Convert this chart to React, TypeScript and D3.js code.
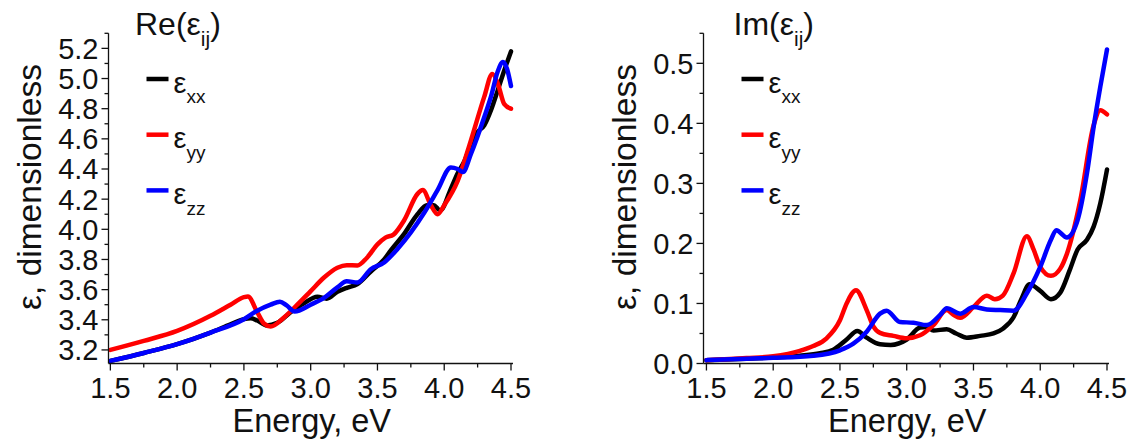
import React from 'react';
import * as d3 from 'd3';

// ---------- data ----------
const energyTicks = [1.5, 2.0, 2.5, 3.0, 3.5, 4.0, 4.5];
const energyMinor = [1.75, 2.25, 2.75, 3.25, 3.75, 4.25];
const reTicks = [3.2, 3.4, 3.6, 3.8, 4.0, 4.2, 4.4, 4.6, 4.8, 5.0, 5.2];
const reMinor = [3.3, 3.5, 3.7, 3.9, 4.1, 4.3, 4.5, 4.7, 4.9, 5.1, 5.3];
const imTicks = [0.0, 0.1, 0.2, 0.3, 0.4, 0.5];
const imMinor = [0.05, 0.15, 0.25, 0.35, 0.45, 0.55];

const seriesNames = ['xx', 'yy', 'zz'];
const seriesColors = ['#000000', '#ff0000', '#0000ff'];

const reXX: [number, number][] = [
  [1.5, 3.127], [1.75, 3.18], [2.0, 3.238], [2.25, 3.315], [2.4, 3.37], [2.5, 3.404],
  [2.55, 3.41], [2.6, 3.395], [2.67, 3.362], [2.75, 3.38], [2.85, 3.45], [2.95, 3.51],
  [3.05, 3.553], [3.12, 3.54], [3.2, 3.585], [3.27, 3.612], [3.35, 3.637], [3.45, 3.72],
  [3.55, 3.8], [3.6, 3.86], [3.7, 3.97], [3.8, 4.1], [3.87, 4.16], [3.92, 4.16],
  [3.97, 4.125], [4.05, 4.27], [4.1, 4.37], [4.15, 4.45], [4.2, 4.56], [4.25, 4.645],
  [4.3, 4.69], [4.35, 4.79], [4.4, 4.92], [4.45, 5.055], [4.5, 5.18],
];
const reYY: [number, number][] = [
  [1.5, 3.2], [1.75, 3.26], [2.0, 3.326], [2.25, 3.426], [2.4, 3.5], [2.5, 3.55],
  [2.53, 3.555], [2.6, 3.45], [2.65, 3.375], [2.7, 3.355], [2.8, 3.415], [2.9, 3.5],
  [3.0, 3.59], [3.1, 3.68], [3.2, 3.745], [3.27, 3.762], [3.35, 3.76], [3.42, 3.81],
  [3.5, 3.9], [3.56, 3.945], [3.62, 3.965], [3.7, 4.06], [3.8, 4.235], [3.84, 4.26],
  [3.9, 4.16], [3.95, 4.1], [4.0, 4.16], [4.1, 4.32], [4.2, 4.59], [4.3, 4.88],
  [4.36, 5.03], [4.4, 4.97], [4.45, 4.83], [4.5, 4.8],
];
const reZZ: [number, number][] = [
  [1.5, 3.127], [1.75, 3.18], [2.0, 3.238], [2.25, 3.315], [2.5, 3.404], [2.6, 3.46],
  [2.7, 3.5], [2.77, 3.52], [2.82, 3.495], [2.88, 3.455], [3.0, 3.5], [3.1, 3.545],
  [3.2, 3.615], [3.27, 3.655], [3.35, 3.648], [3.45, 3.735], [3.55, 3.78], [3.65, 3.87],
  [3.75, 3.98], [3.85, 4.11], [3.95, 4.26], [4.05, 4.41], [4.1, 4.4], [4.14, 4.38],
  [4.2, 4.5], [4.3, 4.745], [4.35, 4.88], [4.4, 5.045], [4.44, 5.11], [4.47, 5.065],
  [4.5, 4.95],
];

const imXX: [number, number][] = [
  [1.5, 0.0056], [1.8, 0.008], [2.0, 0.01], [2.2, 0.013], [2.35, 0.017], [2.45, 0.023],
  [2.55, 0.04], [2.63, 0.054], [2.7, 0.043], [2.8, 0.032], [2.88, 0.031], [3.0, 0.04],
  [3.1, 0.06], [3.15, 0.061], [3.2, 0.055], [3.3, 0.057], [3.37, 0.05], [3.45, 0.043],
  [3.55, 0.046], [3.65, 0.05], [3.72, 0.058], [3.8, 0.077], [3.86, 0.108], [3.92, 0.132],
  [4.0, 0.121], [4.08, 0.107], [4.15, 0.118], [4.22, 0.155], [4.28, 0.19], [4.35, 0.206],
  [4.4, 0.228], [4.45, 0.267], [4.5, 0.323],
];
const imYY: [number, number][] = [
  [1.5, 0.0056], [1.8, 0.009], [2.0, 0.012], [2.2, 0.021], [2.3, 0.029], [2.4, 0.042],
  [2.5, 0.072], [2.55, 0.1], [2.62, 0.122], [2.7, 0.089], [2.75, 0.062], [2.8, 0.051],
  [2.9, 0.046], [3.0, 0.042], [3.1, 0.047], [3.2, 0.064], [3.3, 0.089], [3.35, 0.081],
  [3.4, 0.076], [3.5, 0.094], [3.6, 0.113], [3.66, 0.107], [3.72, 0.113], [3.8, 0.15],
  [3.9, 0.212], [3.95, 0.19], [4.0, 0.161], [4.08, 0.146], [4.15, 0.158], [4.2, 0.183],
  [4.3, 0.272], [4.4, 0.397], [4.45, 0.422], [4.5, 0.415],
];
const imZZ: [number, number][] = [
  [1.5, 0.0056], [1.8, 0.008], [2.0, 0.0094], [2.3, 0.013], [2.5, 0.022], [2.6, 0.033],
  [2.7, 0.053], [2.8, 0.083], [2.85, 0.088], [2.95, 0.069], [3.05, 0.068], [3.15, 0.064],
  [3.25, 0.081], [3.3, 0.092], [3.4, 0.083], [3.5, 0.094], [3.6, 0.09], [3.7, 0.089],
  [3.8, 0.088], [3.9, 0.117], [4.0, 0.161], [4.08, 0.206], [4.12, 0.222], [4.2, 0.21],
  [4.28, 0.239], [4.35, 0.317], [4.4, 0.394], [4.45, 0.461], [4.5, 0.523],
];

const FONT = "'Liberation Sans', Arial, Helvetica, sans-serif";

type PanelProps = {
  left: number;
  right: number;
  top: number;
  bottom: number;
  xDomain: [number, number];
  yDomain: [number, number];
  yTicks: number[];
  yMinor: number[];
  series: [number, number][][];
  titleMain: string;
  titleX: number;
};

function Panel(p: PanelProps) {
  const x = d3.scaleLinear().domain(p.xDomain).range([p.left, p.right]);
  const y = d3.scaleLinear().domain(p.yDomain).range([p.bottom, p.top]);
  const line = d3
    .line<[number, number]>()
    .x((d) => x(d[0]))
    .y((d) => y(d[1]))
    .curve(d3.curveMonotoneX);
  const fmt = d3.format('.1f');
  const legX = p.left + 38;
  const legY0 = 79;
  const legDy = 55.7;
  return (
    <g>
      {/* curves */}
      {p.series.map((s, i) => (
        <path
          key={i}
          d={line(s) || ''}
          fill="none"
          stroke={seriesColors[i]}
          strokeWidth={4.5}
          strokeLinejoin="round"
          strokeLinecap="round"
        />
      ))}
      {/* axes */}
      <line x1={p.left} x2={p.left} y1={p.top} y2={p.bottom} stroke="#111" strokeWidth={1.3} />
      <line x1={p.left} x2={p.right} y1={p.bottom} y2={p.bottom} stroke="#111" strokeWidth={1.3} />
      {energyTicks.map((t) => (
        <g key={'xt' + t}>
          <line x1={x(t)} x2={x(t)} y1={p.bottom} y2={p.bottom + 7} stroke="#111" strokeWidth={1.3} />
          <text x={x(t)} y={p.bottom + 34} fontSize={29} textAnchor="middle" fontFamily={FONT} fill="#111">
            {fmt(t)}
          </text>
        </g>
      ))}
      {energyMinor.map((t) => (
        <line key={'xm' + t} x1={x(t)} x2={x(t)} y1={p.bottom} y2={p.bottom + 4} stroke="#111" strokeWidth={1.3} />
      ))}
      {p.yTicks.map((t) => (
        <g key={'yt' + t}>
          <line x1={p.left - 7} x2={p.left} y1={y(t)} y2={y(t)} stroke="#111" strokeWidth={1.3} />
          <text
            x={p.left - 10}
            y={y(t)}
            dy="0.36em"
            fontSize={29}
            textAnchor="end"
            fontFamily={FONT}
            fill="#111"
          >
            {fmt(t)}
          </text>
        </g>
      ))}
      {p.yMinor.map((t) => (
        <line key={'ym' + t} x1={p.left - 4} x2={p.left} y1={y(t)} y2={y(t)} stroke="#111" strokeWidth={1.3} />
      ))}
      {/* axis titles */}
      <text
        x={(p.left + p.right) / 2 + 1}
        y={432}
        fontSize={32.5}
        textAnchor="middle"
        fontFamily={FONT}
        fill="#111"
      >
        Energy, eV
      </text>
      <text
        transform={`translate(${p.left - 68},187) rotate(-90)`}
        fontSize={33.5}
        textAnchor="middle"
        fontFamily={FONT}
        fill="#111"
      >
        ε, dimensionless
      </text>
      {/* title */}
      <text x={p.titleX} y={34.5} fontSize={32} fontFamily={FONT} fill="#111">
        {p.titleMain}(ε
        <tspan fontSize={21} dy={11}>
          ij
        </tspan>
        <tspan dy={-11}>)</tspan>
      </text>
      {/* legend */}
      {seriesNames.map((n, i) => (
        <g key={'lg' + n}>
          <line
            x1={legX}
            x2={legX + 22}
            y1={legY0 + i * legDy}
            y2={legY0 + i * legDy}
            stroke={seriesColors[i]}
            strokeWidth={4.5}
          />
          <text x={legX + 27} y={legY0 + 13.7 + i * legDy} fontSize={29} fontFamily={FONT} fill="#111">
            ε
            <tspan fontSize={19} dy={10.5}>
              {n}
            </tspan>
          </text>
        </g>
      ))}
    </g>
  );
}

export default function App() {
  return (
    <svg
      width={1133}
      height={441}
      style={{ position: 'absolute', left: 0, top: 0, background: '#fff' }}
    >
      <rect width={1133} height={441} fill="#fff" />
      <Panel
        left={108.5}
        right={513}
        top={33.3}
        bottom={363.5}
        xDomain={[1.486, 4.515]}
        yDomain={[3.11, 5.3]}
        yTicks={reTicks}
        yMinor={reMinor}
        series={[reXX, reYY, reZZ]}
        titleMain="Re"
        titleX={135}
      />
      <Panel
        left={703.5}
        right={1109}
        top={33.3}
        bottom={363.5}
        xDomain={[1.478, 4.515]}
        yDomain={[0, 0.55]}
        yTicks={imTicks}
        yMinor={imMinor}
        series={[imXX, imYY, imZZ]}
        titleMain="Im"
        titleX={733.5}
      />
    </svg>
  );
}
